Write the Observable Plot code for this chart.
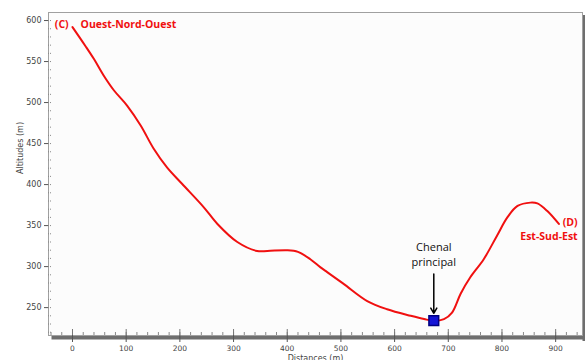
<!DOCTYPE html>
<html>
<head>
<meta charset="utf-8">
<script src="https://cdn.jsdelivr.net/npm/d3@7"></script>
<script src="https://cdn.jsdelivr.net/npm/@observablehq/plot@0.6"></script>
<style>
  html, body { margin: 0; padding: 0; background: white; }
</style>
</head>
<body>
<div id="chart"></div>
<script>
// Profile data (distance in m, altitude in m)
const distances = [0, 24, 40, 58, 77, 102, 127, 151, 176, 204, 245, 270, 307, 344, 363, 400, 420, 443, 462, 475, 505, 549, 586, 630, 655, 673, 692, 707, 723, 741, 766, 791, 810, 829, 853, 866, 884, 906];
const altitudes = [592, 569, 553, 533, 515, 496, 472, 444, 421, 401, 372, 352, 330, 319, 319, 320, 318, 309, 299, 293, 279, 258, 248, 240, 236, 234, 236, 244, 267, 287, 309, 338, 360, 374, 378, 377, 368, 352];

// Main channel point
const channelX = [673];
const channelY = [234];

// Tick values
const xTicks = [0, 100, 200, 300, 400, 500, 600, 700, 800, 900];
const yTicks = [250, 300, 350, 400, 450, 500, 550, 600];
const xMinor = d3.range(-40, 950, 20);
const yMinor = d3.range(220, 610, 10);

// Annotation labels
const startLabel = ["(C)"];
const startName = ["Ouest-Nord-Ouest"];
const startLabelX = [-20];
const startNameX = [15];
const startY = [595];
const endLabels = ["(D)", "Est-Sud-Est"];
const endX = [941, 941];
const endY = [354, 336];

const chenalLines = ["Chenal", "principal"];
const chenalTextY = [323, 305];
const arrowFrom = [291];
const arrowTo = [243];

const line = distances.map((d, i) => ({x: d, y: altitudes[i]}));
const redText = {fill: "#f01010", fontSize: 10.5, fontWeight: "bold", fontFamily: "Open Sans"};

const chart = Plot.plot({
  width: 585,
  height: 360,
  marginLeft: 48,
  marginTop: 12,
  marginRight: 3,
  marginBottom: 25,
  x: {domain: [-44.7, 950]},
  y: {domain: [216, 609.8]},
  style: {fontFamily: "DejaVu Sans", fontSize: "8px", color: "#444", background: "white"},
  marks: [
    Plot.frame({fill: "#fcfcfc", stroke: "none"}),
    Plot.frame({anchor: "bottom", stroke: "#6e6e6e", strokeWidth: 4, dy: 2, insetLeft: 5}),
    Plot.frame({anchor: "right", stroke: "#6e6e6e", strokeWidth: 3, dx: 1.5, insetTop: 4, insetBottom: -4}),
    Plot.frame({stroke: "#a0a0a0"}),
    Plot.tickY(yMinor, {stroke: "#888", insetRight: 531, strokeDasharray: "1,1"}),
    Plot.tickX(xMinor, {stroke: "#888", insetTop: 320}),
    Plot.tickX(xTicks, {stroke: "#777", insetTop: 317}),
    Plot.axisY({ticks: yTicks, tickSize: 4, tickPadding: 3, label: null, stroke: "#555"}),
    Plot.axisX({ticks: xTicks, tickSize: 7, tickPadding: 3, label: null, stroke: "#555", fontSize: 7.5}),
    Plot.text(["Altitudes (m)"], {frameAnchor: "left", dx: -28, rotate: -90, fill: "#444", fontSize: 8}),
    Plot.text(["Distances (m)"], {frameAnchor: "bottom", dy: 20, lineAnchor: "top", fill: "#444", fontSize: 8}),
    Plot.line(line, {x: "x", y: "y", stroke: "#f01010", strokeWidth: 2, curve: "catmull-rom"}),
    Plot.arrow(channelX, {x1: d => d, x2: d => d, y1: arrowFrom, y2: arrowTo, stroke: "black", strokeWidth: 1.5, headLength: 6}),
    Plot.dot(channelX, {x: d => d, y: channelY, symbol: "square", r: 5.5, fill: "#1515d6", stroke: "#000080"}),
    Plot.text(chenalLines, {x: channelX[0], y: chenalTextY, text: d => d, fill: "#111", fontSize: 11, fontFamily: "Open Sans"}),
    Plot.text(startLabel, {x: startLabelX, y: startY, text: d => d, textAnchor: "middle", ...redText}),
    Plot.text(startName, {x: startNameX, y: startY, text: d => d, textAnchor: "start", ...redText}),
    Plot.text(endLabels, {x: endX, y: endY, text: d => d, textAnchor: "end", ...redText})
  ]
});
document.getElementById("chart").appendChild(chart);
</script>
</body>
</html>
